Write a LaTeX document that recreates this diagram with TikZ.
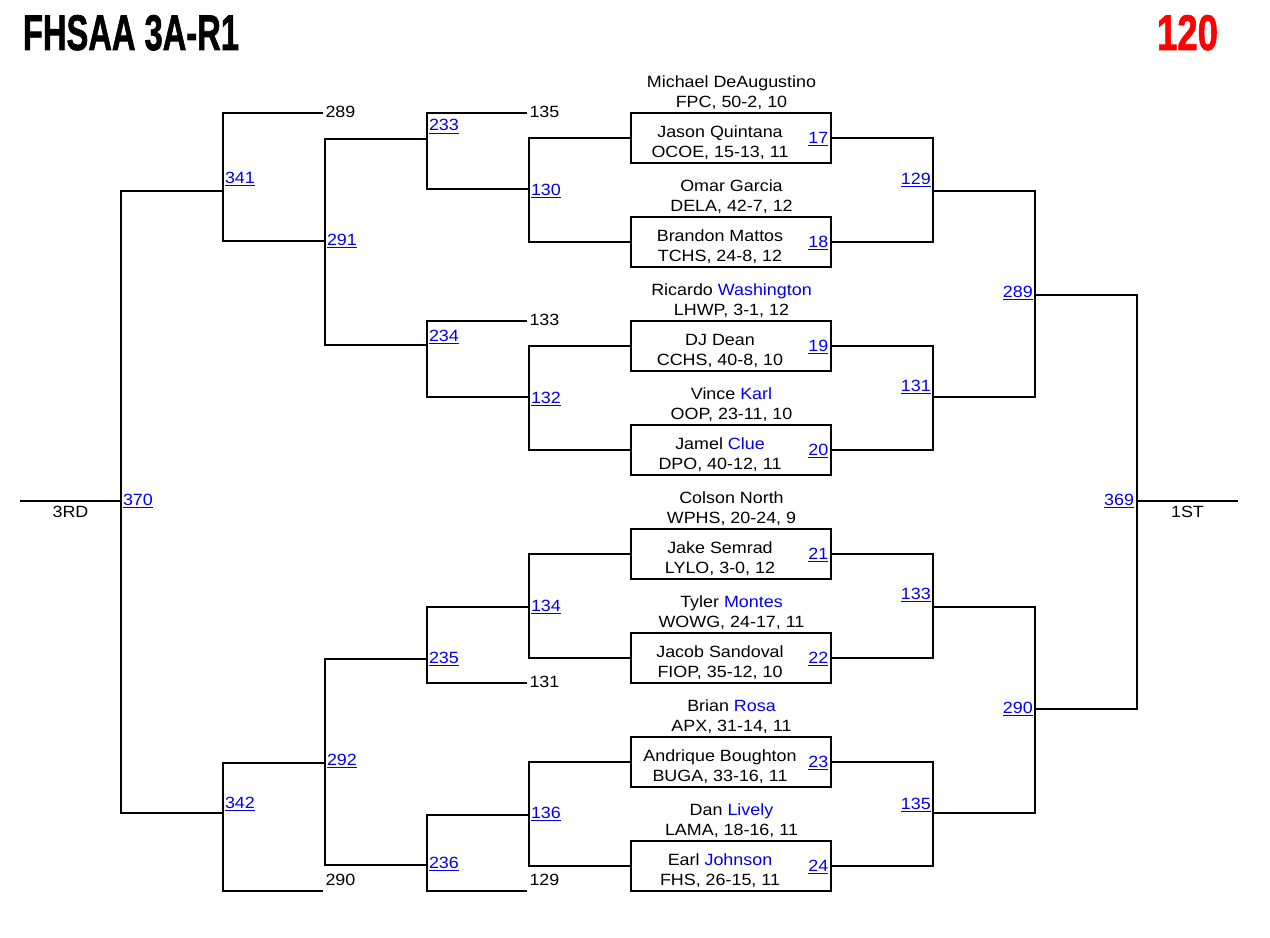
\documentclass[tikz,border=0pt]{standalone}
\usepackage{fontspec}
\setmainfont{Liberation Sans}[FakeStretch=1.1]
\newfontfamily\ttlfont{Liberation Sans Bold}[FakeBold=1.6]
\usepackage{graphicx}
\definecolor{lk}{RGB}{0,0,238}
\newcommand\lnk[1]{\textcolor{lk}{\underline{#1}}}
\newcommand\bl[1]{\textcolor{lk}{#1}}
\begin{document}
\begin{tikzpicture}[x=0.75pt,y=-0.75pt,line width=1.5pt,
  txt/.style={font=\fontsize{12.2}{14}\selectfont,inner sep=0pt,outer sep=0pt},
  mbox/.style={draw,minimum width=150pt,minimum height=37.7pt,inner sep=0pt,outer sep=0pt}]
\useasboundingbox (0,0) rectangle (1270,938);
% title
\node[anchor=base west,inner sep=0pt] (title) at (22,50) {\resizebox{162pt}{26.25pt}{\ttlfont FHSAA 3A-R1}};
\node[anchor=base west,inner sep=0pt,text=red] (weight) at (1156,50) {\resizebox{45.75pt}{26.25pt}{\ttlfont 120}};
% boxes and names
\foreach \i/\a/\b/\c/\d/\s in {
  0/{Michael DeAugustino}/{FPC, 50-2, 10}/{Jason Quintana}/{OCOE, 15-13, 11}/17,
  1/{Omar Garcia}/{DELA, 42-7, 12}/{Brandon Mattos}/{TCHS, 24-8, 12}/18,
  2/{Ricardo \bl{Washington}}/{LHWP, 3-1, 12}/{DJ Dean}/{CCHS, 40-8, 10}/19,
  3/{Vince \bl{Karl}}/{OOP, 23-11, 10}/{Jamel \bl{Clue}}/{DPO, 40-12, 11}/20,
  4/{Colson North}/{WPHS, 20-24, 9}/{Jake Semrad}/{LYLO, 3-0, 12}/21,
  5/{Tyler \bl{Montes}}/{WOWG, 24-17, 11}/{Jacob Sandoval}/{FIOP, 35-12, 10}/22,
  6/{Brian \bl{Rosa}}/{APX, 31-14, 11}/{Andrique Boughton}/{BUGA, 33-16, 11}/23,
  7/{Dan \bl{Lively}}/{LAMA, 18-16, 11}/{Earl \bl{Johnson}}/{FHS, 26-15, 11}/24}{
  \node[mbox] (b\i) at (731,112.7+104*\i+25.15) {};
  \node[txt,anchor=base] (na\i) at (731.5,112.7+104*\i-25.5) {\a};
  \node[txt,anchor=base] (nb\i) at (731.5,112.7+104*\i-5.5) {\b};
  \node[txt,anchor=base] (pa\i) at (720,112.7+104*\i+24.8) {\c};
  \node[txt,anchor=base] (pb\i) at (720,112.7+104*\i+44.5) {\d};
  \node[txt,anchor=base east] (s\i) at (828.3,112.7+104*\i+30.5) {\lnk{\s}};
}
% joints
\coordinate (j129) at (933,191);
\coordinate (j131) at (933,397);
\coordinate (j133) at (933,607);
\coordinate (j135) at (933,813);
\coordinate (j289) at (1035,295);
\coordinate (j290) at (1035,709);
\coordinate (j369) at (1137,501);
\coordinate (first) at (1238,501);
\coordinate (j130) at (529,189);
\coordinate (j132) at (529,397);
\coordinate (j134) at (529,607);
\coordinate (j136) at (529,815);
\coordinate (e135) at (527,113);
\coordinate (e133) at (527,321);
\coordinate (e131) at (527,683);
\coordinate (e129) at (527,891);
\coordinate (j233) at (427,139);
\coordinate (j234) at (427,345);
\coordinate (j235) at (427,659);
\coordinate (j236) at (427,865);
\coordinate (j291) at (325,241);
\coordinate (j292) at (325,763);
\coordinate (e289) at (323,113);
\coordinate (e290) at (323,891);
\coordinate (j341) at (223,191);
\coordinate (j342) at (223,813);
\coordinate (j370) at (121,501);
\coordinate (third) at (20,501);
% right side brackets
\draw (b0.east) -| (j129) |- (b1.east);
\draw (b2.east) -| (j131) |- (b3.east);
\draw (b4.east) -| (j133) |- (b5.east);
\draw (b6.east) -| (j135) |- (b7.east);
\draw (j129) -| (j289) |- (j131);
\draw (j133) -| (j290) |- (j135);
\draw (j289) -| (j369) |- (j290);
\draw (j369) -- (first);
% left side brackets
\draw (b0.west) -| (j130) |- (b1.west);
\draw (b2.west) -| (j132) |- (b3.west);
\draw (b4.west) -| (j134) |- (b5.west);
\draw (b6.west) -| (j136) |- (b7.west);
\draw (e135) -| (j233) |- (j130);
\draw (e133) -| (j234) |- (j132);
\draw (j134) -| (j235) |- (e131);
\draw (j136) -| (j236) |- (e129);
\draw (j233) -| (j291) |- (j234);
\draw (j235) -| (j292) |- (j236);
\draw (e289) -| (j341) |- (j291);
\draw (j292) -| (j342) |- (e290);
\draw (j341) -| (j370) |- (j342);
\draw (j370) -- (third);
% bout labels, left
\node[txt,anchor=base west] (l341) at (225,183.5) {\lnk{341}};
\node[txt,anchor=base west] (l291) at (327,245) {\lnk{291}};
\node[txt,anchor=base west] (l233) at (429,131) {\lnk{233}};
\node[txt,anchor=base west] (l234) at (429,341) {\lnk{234}};
\node[txt,anchor=base west] (l130) at (531,195.5) {\lnk{130}};
\node[txt,anchor=base west] (l132) at (531,403) {\lnk{132}};
\node[txt,anchor=base west] (l370) at (123,505) {\lnk{370}};
\node[txt,anchor=base west] (l342) at (225,808.5) {\lnk{342}};
\node[txt,anchor=base west] (l292) at (327,765) {\lnk{292}};
\node[txt,anchor=base west] (l235) at (429,663) {\lnk{235}};
\node[txt,anchor=base west] (l236) at (429,868.5) {\lnk{236}};
\node[txt,anchor=base west] (l134) at (531,611) {\lnk{134}};
\node[txt,anchor=base west] (l136) at (531,818.5) {\lnk{136}};
% bout labels, right
\node[txt,anchor=base east] (l129) at (930.7,184.5) {\lnk{129}};
\node[txt,anchor=base east] (l131) at (930.7,391.5) {\lnk{131}};
\node[txt,anchor=base east] (l133) at (930.7,599) {\lnk{133}};
\node[txt,anchor=base east] (l135) at (930.7,809) {\lnk{135}};
\node[txt,anchor=base east] (l289) at (1032.7,297) {\lnk{289}};
\node[txt,anchor=base east] (l290) at (1032.7,713.5) {\lnk{290}};
\node[txt,anchor=base east] (l369) at (1134,505) {\lnk{369}};
% plain labels
\node[txt,anchor=base west] (v135) at (529.5,117.3) {135};
\node[txt,anchor=base west] (v133) at (529.5,325) {133};
\node[txt,anchor=base west] (v131) at (529.5,687.3) {131};
\node[txt,anchor=base west] (v129) at (529.5,885.5) {129};
\node[txt,anchor=base west] (v289) at (325.5,117.3) {289};
\node[txt,anchor=base west] (v290) at (325.5,885.5) {290};
\node[txt,anchor=base] (t3rd) at (70.5,517.3) {3RD};
\node[txt,anchor=base] (t1st) at (1187.5,517.7) {1ST};
\end{tikzpicture}
\end{document}
